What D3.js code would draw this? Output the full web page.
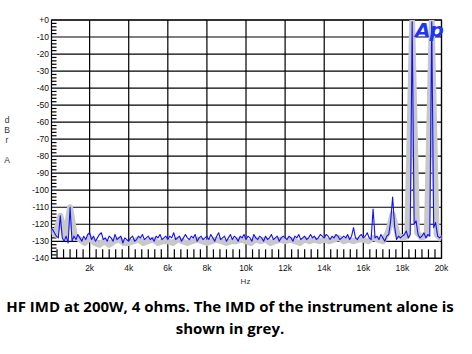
<!DOCTYPE html>
<html lang="en">
<head>
    <meta charset="UTF-8">
    <title>HF IMD</title>
    <script src="https://d3js.org/d3.v7.min.js"></script>
    <style>
        body { margin: 0; background: #fff; }
        svg { display: block; }
    </style>
</head>
<body>
    <div id="chart"></div>
    <script>
        // Blue trace: amplifier at 200W / 4 ohms, one value per 100 Hz (0 .. 20 kHz)
        var blueDb = [
            -122, -123, -125, -127, -128, -115, -128, -130, -127, -131,
            -110, -130, -127, -129, -126, -128, -130, -127, -129, -126,
            -125, -129, -127, -130, -128, -126, -125, -129, -128, -130,
            -127, -128, -130, -126, -129, -128, -127, -131, -128, -129,
            -130, -128, -127, -130, -129, -127, -128, -126, -129, -128,
            -127, -129, -128, -130, -127, -128, -126, -129, -128, -127,
            -129, -127, -128, -125, -129, -128, -127, -130, -128, -126,
            -128, -129, -127, -128, -126, -130, -128, -127, -129, -128,
            -127, -129, -126, -128, -130, -127, -125, -129, -128, -127,
            -130, -128, -126, -129, -127, -128, -130, -127, -128, -126,
            -129, -127, -128, -130, -126, -128, -129, -127, -128, -130,
            -127, -129, -128, -126, -129, -128, -127, -130, -128, -127,
            -128, -129, -127, -128, -130, -127, -128, -126, -129, -128,
            -127, -129, -128, -126, -128, -127, -129, -128, -126, -127,
            -128, -126, -127, -129, -127, -128, -126, -127, -129, -128,
            -127, -128, -126, -129, -127, -122, -128, -129, -127, -126,
            -128, -127, -125, -128, -129, -111, -128, -127, -129, -126,
            -128, -130, -127, -126, -118, -104, -121, -129, -127, -128,
            -127, -126, -124, -128, -126, -1, -120, -118, -126, -128,
            -127, -125, -128, -126, -127, -1, -122, -119, -127, -128,
            -127
        ];

        // Grey trace: instrument alone, one value per 250 Hz (0 .. 20 kHz)
        var greyDb = [
            -123, -126, -115, -127, -110, -127, -129, -131,
            -128, -131, -132, -130, -132, -130, -129, -131,
            -131, -130, -129, -131, -130, -129, -131, -130,
            -130, -131, -129, -130, -131, -130, -129, -130,
            -131, -130, -129, -130, -131, -130, -130, -129,
            -130, -131, -129, -130, -129, -131, -130, -129,
            -130, -129, -130, -131, -129, -130, -129, -130,
            -129, -130, -129, -128, -130, -129, -130, -129,
            -129, -130, -128, -129, -130, -125, -114, -126,
            -128, -127, -1, -125, -128, -126, -1, -126,
            -129
        ];

        var xTicks = [2000, 4000, 6000, 8000, 10000, 12000, 14000, 16000, 18000, 20000];
        var xTickLabels = ["2k", "4k", "6k", "8k", "10k", "12k", "14k", "16k", "18k", "20k"];
        var yTicks = [0, -10, -20, -30, -40, -50, -60, -70, -80, -90, -100, -110, -120, -130, -140];
        var yTickLabels = ["+0", "-10", "-20", "-30", "-40", "-50", "-60", "-70", "-80", "-90", "-100", "-110", "-120", "-130", "-140"];

        var blueData = blueDb.map(function(v, i) { return { f: i * 100, db: v }; });
        var greyData = greyDb.map(function(v, i) { return { f: i * 250, db: v }; });

        var W = 472, H = 354;
        var pLeft = 51.5, pRight = 441.5, pTop = 20, pBottom = 258.3;

        var svg = d3.select("#chart").append("svg")
            .attr("width", W).attr("height", H);

        svg.append("rect").attr("width", W).attr("height", H).attr("fill", "#fff");

        var x = d3.scaleLinear().domain([50, 20000]).range([pLeft, pRight]);
        var y = d3.scaleLinear().domain([-140, 0]).range([pBottom, pTop]);

        var labelFont = "'Liberation Sans', Arial, sans-serif";

        // grid
        var grid = svg.append("g").attr("stroke", "#000").attr("stroke-width", 1.2);
        grid.selectAll(".vg").data(xTicks).enter().append("line")
            .attr("x1", function(d) { return x(d); }).attr("x2", function(d) { return x(d); })
            .attr("y1", pTop).attr("y2", pBottom);
        grid.selectAll(".hg").data(yTicks).enter().append("line")
            .attr("x1", pLeft).attr("x2", pRight)
            .attr("y1", function(d) { return y(d); }).attr("y2", function(d) { return y(d); });

        // minor ticks
        var xMinor = [];
        for (var k = 0; k < 20000; k += 2000) {
            for (var m = 1; m < 6; m++) xMinor.push(k + m * 2000 / 6);
        }
        grid.selectAll(".xm").data(xMinor).enter().append("line")
            .attr("x1", function(d) { return x(d); }).attr("x2", function(d) { return x(d); })
            .attr("y1", pBottom - 9).attr("y2", pBottom);
        var yMinor = [];
        for (var j = -140; j < 0; j += 10) {
            for (var n = 1; n < 5; n++) yMinor.push(j + n * 2);
        }
        grid.selectAll(".ym").data(yMinor).enter().append("line")
            .attr("x1", pLeft).attr("x2", pLeft + 5)
            .attr("y1", function(d) { return y(d); }).attr("y2", function(d) { return y(d); });

        // frame
        svg.append("rect")
            .attr("x", pLeft).attr("y", pTop)
            .attr("width", pRight - pLeft).attr("height", pBottom - pTop)
            .attr("fill", "none").attr("stroke", "#000").attr("stroke-width", 1.2);

        svg.append("clipPath").attr("id", "plot")
            .append("rect").attr("x", pLeft).attr("y", pTop)
            .attr("width", pRight - pLeft).attr("height", pBottom - pTop);

        var line = d3.line()
            .x(function(d) { return x(d.f); })
            .y(function(d) { return y(d.db); });

        var traces = svg.append("g").attr("clip-path", "url(#plot)");
        traces.append("path").datum(greyData)
            .attr("d", line)
            .attr("fill", "none").attr("stroke", "#c8c8c8")
            .attr("stroke-width", 6).attr("stroke-linejoin", "round");
        traces.append("path").datum(blueData)
            .attr("d", line)
            .attr("fill", "none").attr("stroke", "#1010ff")
            .attr("stroke-width", 1.1).attr("stroke-linejoin", "round");

        // tick labels
        svg.selectAll(".yl").data(yTicks).enter().append("text")
            .attr("x", pLeft - 2.5).attr("y", function(d) { return y(d) + 3; })
            .attr("text-anchor", "end")
            .attr("font-family", labelFont).attr("font-size", 8.5).attr("fill", "#111")
            .text(function(d, i) { return yTickLabels[i]; });
        svg.selectAll(".xl").data(xTicks).enter().append("text")
            .attr("x", function(d) { return x(d); }).attr("y", 270.5)
            .attr("text-anchor", "middle")
            .attr("font-family", labelFont).attr("font-size", 8.5).attr("fill", "#111")
            .text(function(d, i) { return xTickLabels[i]; });

        svg.append("text").attr("x", 245.5).attr("y", 284)
            .attr("text-anchor", "middle")
            .attr("font-family", labelFont).attr("font-size", 8).attr("fill", "#333")
            .text("Hz");

        // dBr A, stacked letters
        var unitLetters = [["d", 123], ["B", 132.5], ["r", 143], ["A", 163]];
        svg.selectAll(".ul").data(unitLetters).enter().append("text")
            .attr("x", 7).attr("y", function(d) { return d[1]; })
            .attr("text-anchor", "middle")
            .attr("font-family", labelFont).attr("font-size", 8.5).attr("fill", "#333")
            .text(function(d) { return d[0]; });

        // Ap logo
        svg.append("text").attr("x", 415).attr("y", 37)
            .attr("font-family", "'DejaVu Sans', sans-serif")
            .attr("font-weight", "bold").attr("font-style", "italic")
            .attr("font-size", 20).attr("letter-spacing", -1)
            .attr("fill", "#2035f0")
            .text("Ap");

        // caption
        var caption = ["HF IMD at 200W, 4 ohms. The IMD of the instrument alone is", "shown in grey."];
        svg.selectAll(".cap").data(caption).enter().append("text")
            .attr("x", 230).attr("y", function(d, i) { return 312 + i * 21.5; })
            .attr("text-anchor", "middle")
            .attr("font-family", "'Open Sans', sans-serif")
            .attr("font-weight", "bold").attr("font-size", 15)
            .attr("fill", "#000")
            .text(function(d) { return d; });
    </script>
</body>
</html>
